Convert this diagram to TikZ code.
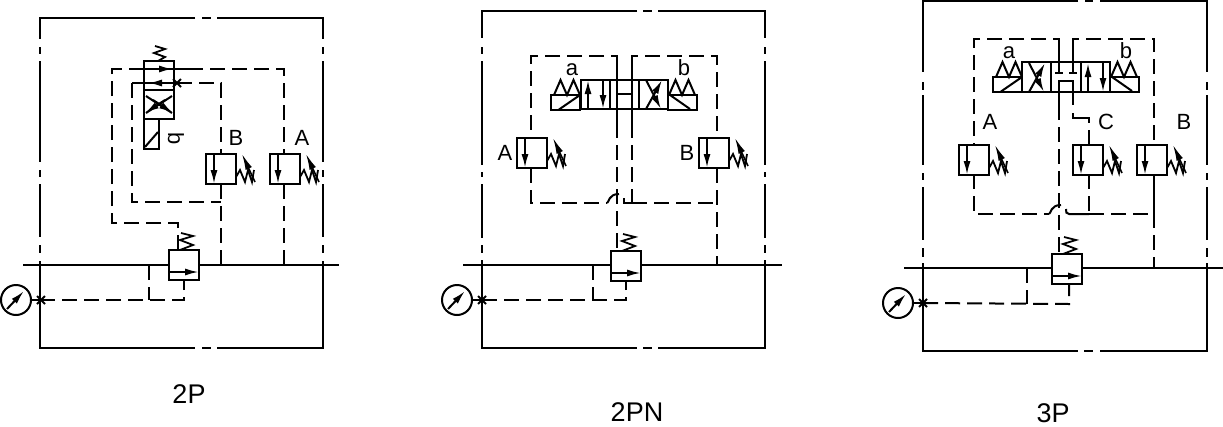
\documentclass[tikz,border=0pt]{standalone}
\usepackage{fontspec}
\setmainfont{Liberation Sans}
\usetikzlibrary{arrows.meta}
\tikzset{
	pipe/.style={line width=2pt,line join=miter},
	pilot/.style={pipe,dash pattern=on 15pt off 7pt},
	headed/.style={pipe,-{Latex[length=14pt,width=7pt]}},
	thinhead/.style={line width=1.6pt,-{Latex[length=16pt,width=7pt]}},
	portname/.style={inner sep=0pt,anchor=base,font=\fontsize{22}{26}\selectfont},
	typename/.style={inner sep=0pt,anchor=base,font=\fontsize{27}{32}\selectfont},
	reliefvalve/.pic={
		\draw[pipe,fill=white] (0,0) rectangle (30,30);
		\draw[headed] (8,0) -- (8,30);
		\draw[line width=1.8pt] (30,23) -- (34,16) -- (39,28) -- (42,16) -- (46,28) -- (48,16);
		\draw[thinhead] (49,28) -- (36,0);
	},
	mainvalve/.pic={
		\draw[pipe,fill=white] (0,0) rectangle (30,30);
		\draw[pipe] (0,22) -- (20,22);
		\draw[headed] (15,22) -- (30,22);
		\draw[line width=1.8pt] (11,0) -- (24,-5) -- (11,-10) -- (24,-14) -- (12,-17);
	},
	gauge/.pic={
		\draw[pipe,fill=white] (0,0) circle (15pt);
		\draw[pipe] (15,0) -- (25,0);
		\draw[headed] (-9,9) -- (8,-9);
		\draw[pipe] (21,-4) -- (29,4) (21,4) -- (29,-4);
	},
	solleft/.pic={
		\draw[pipe] (0,0) rectangle (29,14.5);
		\draw[pipe] (8,14.5) -- (29,0);
		\draw[pipe] (3,0) -- (9.5,-15) -- (16,0) -- (22.5,-15) -- (29,0);
	},
	solright/.pic={
		\draw[pipe] (0,0) rectangle (29,14.5);
		\draw[pipe] (2,0) -- (22,14);
		\draw[pipe] (1,0) -- (7.5,-15) -- (14,0) -- (20.5,-15) -- (27,0);
	},
	crosscell/.pic={
		\draw[headed] (7,29) -- (23,0);
		\draw[headed] (7,0) -- (22,29);
	},
	parallelcell/.pic={
		\draw[headed] (7,29) -- (7,0);
		\draw[headed] (22,0) -- (22,29);
	}
}

\begin{document}
\begin{tikzpicture}[x=1pt,y=-1pt]
	\useasboundingbox (0,0) rectangle (1223,426);
	\draw[pipe] (195,18) -- (40,18) -- (40,39) (40,47) -- (40,54) (40,61) -- (40,162) (40,170) -- (40,177) (40,184) -- (40,237) (40,245) -- (40,253) (40,261) -- (40,348) -- (195,348);
	\draw[pipe] (217,18) -- (323,18) -- (323,39) (323,47) -- (323,54) (323,61) -- (323,162) (323,170) -- (323,177) (323,184) -- (323,237) (323,245) -- (323,253) (323,261) -- (323,348) -- (217,348);
	\draw[pipe] (202,18) -- (211,18) (202,348) -- (211,348);
	\draw[pipe] (23,265) -- (339,265);
	\draw[pilot] (178,250) -- (178,223) -- (112,223) -- (112,69) -- (129,69);
	\draw[pilot] (188,69) -- (284,69) -- (284,154);
	\draw[pipe] (129,69) -- (188,69);
	\draw[pipe] (132,83) -- (177,83);
	\draw[pilot] (177,83) -- (221,83) -- (221,154);
	\draw[pilot] (132,83) -- (132,202) -- (221,202);
	\draw[pilot] (221,184) -- (221,265);
	\draw[pilot] (284,184) -- (284,265);
	\draw[pilot] (40,300) -- (184,300) -- (184,280);
	\draw[pilot] (149,265) -- (149,300);
	\draw[pipe] (144,61) rectangle (174,90);
	\draw[pipe] (144,90) rectangle (174,119);
	\draw[pipe] (144,119) rectangle (159,149);
	\draw[pipe] (145,147) -- (158,132);
	\draw[line width=1.8pt] (158,61) -- (165,57) -- (154,53) -- (165,49) -- (155,46);
	\draw[headed] (157,69) -- (173,69);
	\draw[headed] (163,83) -- (148,83);
	\draw[pipe] (173,79) -- (181,87) (173,87) -- (181,79);
	\draw[headed] (165,100) -- (145,113);
	\draw[headed] (153,100) -- (173,113);
	\draw[pipe] (146,96) -- (172,113) (172,96) -- (146,113);
	\pic at (206,154) {reliefvalve};
	\pic at (270,154) {reliefvalve};
	\pic at (169,250) {mainvalve};
	\pic at (16,300) {gauge};
	\node[portname] (labelq) at (176,139) [rotate=-90,anchor=center] {b};
	\node[portname] (labelBa) at (236,145) {B};
	\node[portname] (labelAa) at (302,145) {A};
	\node[typename] (typeA) at (189,403) {2P};

	\draw[pipe] (637,11) -- (482,11) -- (482,38) (482,47) -- (482,54) (482,61) -- (482,165) (482,172) -- (482,177) (482,184) -- (482,238) (482,245) -- (482,253) (482,260) -- (482,348) -- (637,348);
	\draw[pipe] (658,11) -- (765,11) -- (765,38) (765,47) -- (765,54) (765,61) -- (765,165) (765,172) -- (765,177) (765,184) -- (765,238) (765,245) -- (765,253) (765,260) -- (765,348) -- (658,348);
	\draw[pipe] (643,11) -- (652,11) (643,348) -- (652,348);
	\draw[pipe] (463,265) -- (782,265);
	\draw[pilot] (617,65) -- (617,56) -- (531,56) -- (531,138);
	\draw[pilot] (632,65) -- (632,56) -- (717,56) -- (717,138);
	\draw[pipe] (617,65) -- (617,123);
	\draw[pipe] (632,65) -- (632,123);
	\draw[pilot] (617,123) -- (617,251);
	\draw[pilot] (632,123) -- (632,203);
	\draw[pilot] (531,168) -- (531,203) -- (607,203);
	\draw[pipe] (607,203) .. controls (609,203) and (608,194) .. (619,194);
	\draw[pipe] (624,198) -- (624,203) -- (632,203);
	\draw[pilot] (632,203) -- (717,203);
	\draw[pilot] (717,168) -- (717,265);
	\draw[pilot] (482,300) -- (626,300) -- (626,280);
	\draw[pilot] (593,265) -- (593,300);
	\draw[pipe] (581,80) rectangle (668,109);
	\draw[pipe] (610,80) -- (610,109);
	\draw[pipe] (639,80) -- (639,109);
	\draw[pipe] (617,94) -- (632,94);
	\pic at (551,95) {solleft};
	\pic at (668,95) {solright};
	\pic at (581,80) {parallelcell};
	\pic at (639,80) {crosscell};
	\pic at (517,138) {reliefvalve};
	\pic at (699,138) {reliefvalve};
	\pic at (611,251) {mainvalve};
	\pic at (457,300) {gauge};
	\node[portname] (labelab) at (572,75) {a};
	\node[portname] (labelbb) at (684,75) {b};
	\node[portname] (labelAb) at (505,160) {A};
	\node[portname] (labelBb) at (687,160) {B};
	\node[typename] (typeB) at (637,421) {2PN};

	\draw[pipe] (1078,1) -- (923,1) -- (923,72) (923,82) -- (923,90) (923,95) -- (923,165) (923,173) -- (923,180) (923,187) -- (923,240) (923,248) -- (923,257) (923,263) -- (923,351) -- (1078,351);
	\draw[pipe] (1100,1) -- (1207,1) -- (1207,72) (1207,82) -- (1207,90) (1207,95) -- (1207,165) (1207,173) -- (1207,180) (1207,187) -- (1207,240) (1207,248) -- (1207,257) (1207,263) -- (1207,351) -- (1100,351);
	\draw[pipe] (1085,1) -- (1093,1) (1084,351) -- (1093,351);
	\draw[pipe] (904,268) -- (1223,268);
	\draw[pilot] (1059,48) -- (1059,39) -- (974,39) -- (974,145);
	\draw[pilot] (1073,48) -- (1073,39) -- (1154,39) -- (1154,145);
	\draw[pipe] (1059,48) -- (1059,73);
	\draw[pipe] (1073,48) -- (1073,73);
	\draw[pipe] (1055,73) -- (1063,73);
	\draw[pipe] (1069,73) -- (1077,73);
	\draw[pipe] (1059,105) -- (1059,81) -- (1073,81) -- (1073,105);
	\draw[pilot] (1059,105) -- (1059,254);
	\draw[pipe] (1073,113) -- (1073,118) -- (1089,118) -- (1089,123);
	\draw[pilot] (1089,130) -- (1089,145);
	\draw[pilot] (974,174) -- (974,214) -- (1049,214);
	\draw[pipe] (1049,214) .. controls (1051,214) and (1050,205) .. (1061,205);
	\draw[pipe] (1066,209) .. controls (1066,212) and (1066,214) .. (1069,214) -- (1089,214);
	\draw[pilot] (1089,214) -- (1154,214);
	\draw[pilot] (1089,174) -- (1089,214);
	\draw[pipe] (1154,174) -- (1154,228);
	\draw[pilot] (1154,235) -- (1154,268);
	\draw[pilot] (923,303) -- (1069,304) -- (1069,283);
	\draw[pilot] (1027,268) -- (1027,304);
	\draw[pipe] (1022,62) rectangle (1110,92);
	\draw[pipe] (1051,62) -- (1051,92);
	\draw[pipe] (1081,62) -- (1081,92);
	\pic at (993,77) {solleft};
	\pic at (1110,77) {solright};
	\pic at (1022,63) {crosscell};
	\pic at (1081,63) {parallelcell};
	\pic at (959,145) {reliefvalve};
	\pic at (1073,145) {reliefvalve};
	\pic at (1137,145) {reliefvalve};
	\pic at (1052,254) {mainvalve};
	\pic at (898,303) {gauge};
	\node[portname] (labelac) at (1009,58) {a};
	\node[portname] (labelbc) at (1126,58) {b};
	\node[portname] (labelAc) at (990,129) {A};
	\node[portname] (labelCc) at (1106,129) {C};
	\node[portname] (labelBc) at (1184,129) {B};
	\node[typename] (typeC) at (1053,422) {3P};
\end{tikzpicture}
\end{document}
